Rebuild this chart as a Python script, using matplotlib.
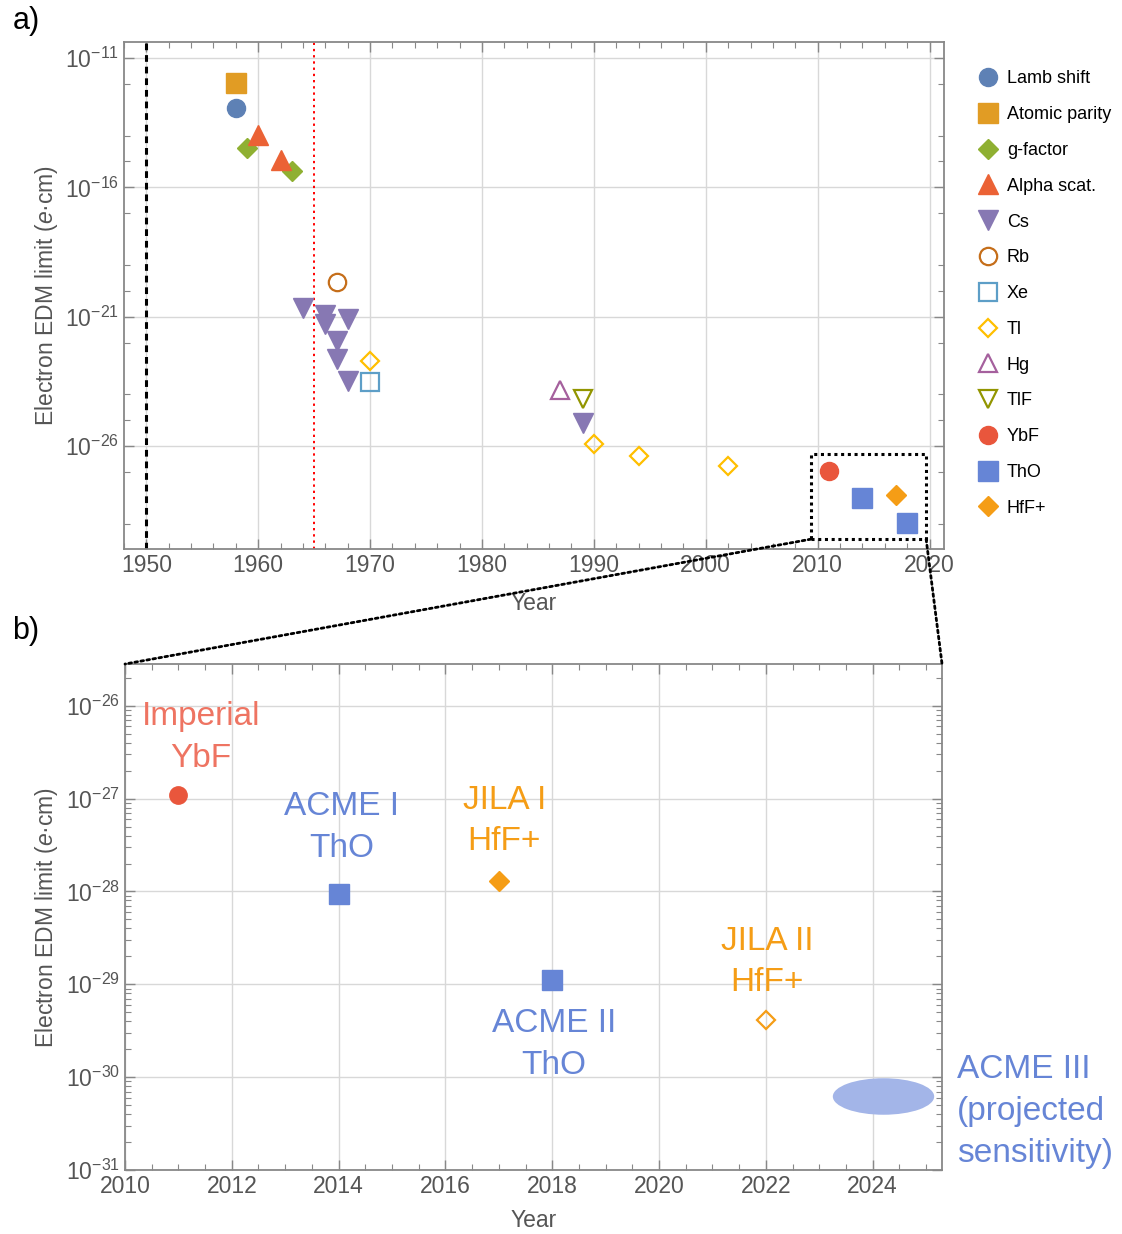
import numpy as np
import matplotlib
matplotlib.use("Agg")
import matplotlib.pyplot as plt
from matplotlib.markers import MarkerStyle
from matplotlib.transforms import Affine2D
from matplotlib.patches import Rectangle, ConnectionPatch
from matplotlib.ticker import FixedLocator, FuncFormatter, LogLocator, MultipleLocator, NullFormatter

plt.rcParams['font.family'] = ['Liberation Sans', 'DejaVu Sans']
plt.rcParams['mathtext.fontset'] = 'custom'
plt.rcParams['mathtext.rm'] = 'Liberation Sans'
plt.rcParams['mathtext.it'] = 'Liberation Sans:italic'

# ---- panel a) data (year, EDM limit in e*cm) ----
lamb_year = [1958]
lamb_edm = [1.2e-13]
parity_year = [1958]
parity_edm = [1.07e-12]
gfactor_year = [1959, 1963]
gfactor_edm = [3.4e-15, 4.4e-16]
alpha_year = [1960, 1962]
alpha_edm = [1.07e-14, 1.15e-15]
cs_year = [1964, 1966, 1966, 1968, 1967, 1967, 1968, 1989]
cs_edm = [2.2e-21, 1.2e-21, 5.4e-22, 8.0e-22, 1.1e-22, 2.3e-23, 3.3e-24, 7.6e-26]
rb_year = [1967]
rb_edm = [2.2e-20]
xe_year = [1970]
xe_edm = [3.0e-24]
tl_year = [1970, 1990, 1994, 2002]
tl_edm = [1.9e-23, 1.15e-26, 4.3e-27, 1.7e-27]
hg_year = [1987]
hg_edm = [1.5e-24]
tlf_year = [1989]
tlf_edm = [6.3e-25]
ybf_year = [2011]
ybf_edm = [1.1e-27]
tho_year = [2014, 2018]
tho_edm = [9.5e-29, 1.1e-29]
hff_year = [2017]
hff_edm = [1.3e-28]

# ---- panel b) extra data ----
jila2_year = [2022]
jila2_edm = [4.1e-30]
acme3_year = [2024.2]
acme3_edm = [6.3e-31]

c_lamb = '#5E81B5'
c_parity = '#E19C24'
c_gfac = '#8FB032'
c_alpha = '#EB6235'
c_cs = '#8778B3'
c_rb = '#C56E1A'
c_xe = '#5D9EC7'
c_tl = '#FFBF00'
c_hg = '#A5609D'
c_tlf = '#929500'
c_ybf = '#E9563C'
c_tho = '#6685D6'
c_hff = '#F59D16'
c_ybf_txt = '#EE7462'
c_ell = '#A3B5E8'

tick_col = '#555555'
spine_col = '#888888'
grid_col = '#D8D8D8'

fig = plt.figure(figsize=(11.22, 12.34), dpi=100)
ax1 = fig.add_axes([0.1105, 0.5551, 0.7309, 0.4109])
ax2 = fig.add_axes([0.1114, 0.0519, 0.7282, 0.4100])


def pow_fmt(v, pos):
    return r'$\mathregular{10^{%d}}$' % int(round(np.log10(v)))


def style_axes(ax):
    for s in ax.spines.values():
        s.set_color(spine_col)
        s.set_linewidth(1.3)
    ax.tick_params(which='both', direction='in', top=True, right=True,
                   colors=spine_col, labelcolor=tick_col, labelsize=16.5)
    ax.tick_params(which='major', length=7, width=1)
    ax.tick_params(which='minor', length=4, width=0.8)
    ax.grid(True, which='major', color=grid_col, linewidth=1)
    ax.set_axisbelow(True)


# ================= panel a =================
ax1.set_yscale('log')
ax1.set_xlim(1948.0, 2021.3)
ax1.set_ylim(10 ** -29.98, 10 ** -10.38)
style_axes(ax1)
ax1.xaxis.set_major_locator(MultipleLocator(10))
ax1.xaxis.set_minor_locator(MultipleLocator(2))
ax1.yaxis.set_major_locator(FixedLocator([1e-11, 1e-16, 1e-21, 1e-26]))
ax1.yaxis.set_minor_locator(FixedLocator([10.0 ** e for e in
                                          [-12, -14, -15, -17, -19, -20, -22, -24, -25, -27, -29]]))
ax1.yaxis.set_major_formatter(FuncFormatter(pow_fmt))
ax1.yaxis.set_minor_formatter(NullFormatter())

ax1.axvline(1950, color='black', linestyle=(0, (2.2, 1.6)), linewidth=2.2, zorder=2)
ax1.axvline(1965, color='red', linestyle=(0, (1.2, 2.0)), linewidth=1.4, zorder=2)

ms = 13
ax1.plot(lamb_year, lamb_edm, 'o', color=c_lamb, ms=ms, ls='none', label='Lamb shift')
ax1.plot(parity_year, parity_edm, 's', color=c_parity, ms=14, ls='none', label='Atomic parity')
ax1.plot(gfactor_year, gfactor_edm, 'D', color=c_gfac, ms=10.5, ls='none', label='g-factor')
ax1.plot(alpha_year, alpha_edm, '^', color=c_alpha, ms=14, ls='none', label='Alpha scat.')
ax1.plot(cs_year, cs_edm, 'v', color=c_cs, ms=14, ls='none', label='Cs')
ax1.plot(rb_year, rb_edm, 'o', mfc='none', mec=c_rb, mew=1.6, ms=12.5, ls='none', label='Rb')
ax1.plot(xe_year, xe_edm, 's', mfc='none', mec=c_xe, mew=1.6, ms=13, ls='none', label='Xe')
ax1.plot(tl_year, tl_edm, 'D', mfc='none', mec=c_tl, mew=1.6, ms=9.5, ls='none', label='Tl')
ax1.plot(hg_year, hg_edm, '^', mfc='none', mec=c_hg, mew=1.6, ms=13, ls='none', label='Hg')
ax1.plot(tlf_year, tlf_edm, 'v', mfc='none', mec=c_tlf, mew=1.6, ms=13, ls='none', label='TlF')
ax1.plot(ybf_year, ybf_edm, 'o', color=c_ybf, ms=ms, ls='none', label='YbF')
ax1.plot(tho_year, tho_edm, 's', color=c_tho, ms=14, ls='none', label='ThO')
ax1.plot(hff_year, hff_edm, 'D', color=c_hff, ms=10.5, ls='none', label='HfF+')

ax1.set_xlabel('Year', fontsize=16.5, color=tick_col, labelpad=11)
ax1.set_ylabel(r'Electron EDM limit ($\mathit{e}$·cm)', fontsize=16.5, color=tick_col, labelpad=4)

leg = ax1.legend(loc='upper left', bbox_to_anchor=(1.032, 0.958), frameon=False,
                 fontsize=13, labelspacing=1.04, handletextpad=0.42,
                 handlelength=1.2, borderaxespad=0)

# zoom box
zx0, zx1 = 2009.4, 2019.7
zy0, zy1 = 10 ** -29.6, 10 ** -26.3
ax1.add_patch(Rectangle((zx0, zy0), zx1 - zx0, zy1 - zy0, fill=False,
                        edgecolor='black', linestyle=(0, (1, 1.2)), linewidth=2.2, zorder=5))

# ================= panel b =================
ax2.set_yscale('log')
ax2.set_xlim(2010, 2025.3)
ax2.set_ylim(1e-31, 10 ** -25.55)
style_axes(ax2)
ax2.xaxis.set_major_locator(MultipleLocator(2))
ax2.xaxis.set_minor_locator(MultipleLocator(0.5))
ax2.yaxis.set_major_locator(LogLocator(base=10, numticks=20))
ax2.yaxis.set_minor_locator(LogLocator(base=10, subs=np.arange(2, 10), numticks=50))
ax2.yaxis.set_major_formatter(FuncFormatter(pow_fmt))
ax2.yaxis.set_minor_formatter(NullFormatter())

ell = MarkerStyle('o', transform=Affine2D().scale(1, 0.36))
ax2.plot(acme3_year, acme3_edm, marker=ell, ms=73, color=c_ell, mew=0, ls='none', zorder=3)
ax2.plot(ybf_year, ybf_edm, 'o', color=c_ybf, ms=12.5, ls='none', zorder=4)
ax2.plot(tho_year, tho_edm, 's', color=c_tho, ms=14, ls='none', zorder=4)
ax2.plot(hff_year, hff_edm, 'D', color=c_hff, ms=10, ls='none', zorder=4)
ax2.plot(jila2_year, jila2_edm, 'D', mfc='none', mec=c_hff, mew=1.6, ms=9, ls='none', zorder=4)

tfs = 24
lsp = 1.45
ax2.text(2011.42, 10 ** -26.34, 'Imperial\nYbF', color=c_ybf_txt, fontsize=tfs,
         ha='center', va='center', linespacing=lsp)
ax2.text(2014.05, 10 ** -27.31, 'ACME I\nThO', color=c_tho, fontsize=tfs,
         ha='center', va='center', linespacing=lsp)
ax2.text(2017.1, 10 ** -27.24, 'JILA I\nHfF+', color=c_hff, fontsize=tfs,
         ha='center', va='center', linespacing=lsp)
ax2.text(2018.03, 10 ** -29.65, 'ACME II\nThO', color=c_tho, fontsize=tfs,
         ha='center', va='center', linespacing=lsp)
ax2.text(2022.02, 10 ** -28.76, 'JILA II\nHfF+', color=c_hff, fontsize=tfs,
         ha='center', va='center', linespacing=lsp)
ax2.text(1.018, 0.115, 'ACME III\n(projected\nsensitivity)', transform=ax2.transAxes,
         color=c_tho, fontsize=tfs, ha='left', va='center', linespacing=lsp, clip_on=False)

ax2.set_xlabel('Year', fontsize=16.5, color=tick_col, labelpad=8)
ax2.set_ylabel(r'Electron EDM limit ($\mathit{e}$·cm)', fontsize=16.5, color=tick_col, labelpad=4)

# connector lines from zoom box to panel b
for xa, xb in [(zx0, 0), (zx1, 1)]:
    con = ConnectionPatch(xyA=(xa, zy0), coordsA=ax1.transData,
                          xyB=(xb, 1), coordsB=ax2.transAxes,
                          color='black', linestyle=(0, (1, 1.2)), linewidth=2.0)
    fig.add_artist(con)

fig.text(0.011, 0.983, 'a)', fontsize=22, ha='left', va='center')
fig.text(0.011, 0.489, 'b)', fontsize=22, ha='left', va='center')

fig.savefig('out.png', dpi=100)
